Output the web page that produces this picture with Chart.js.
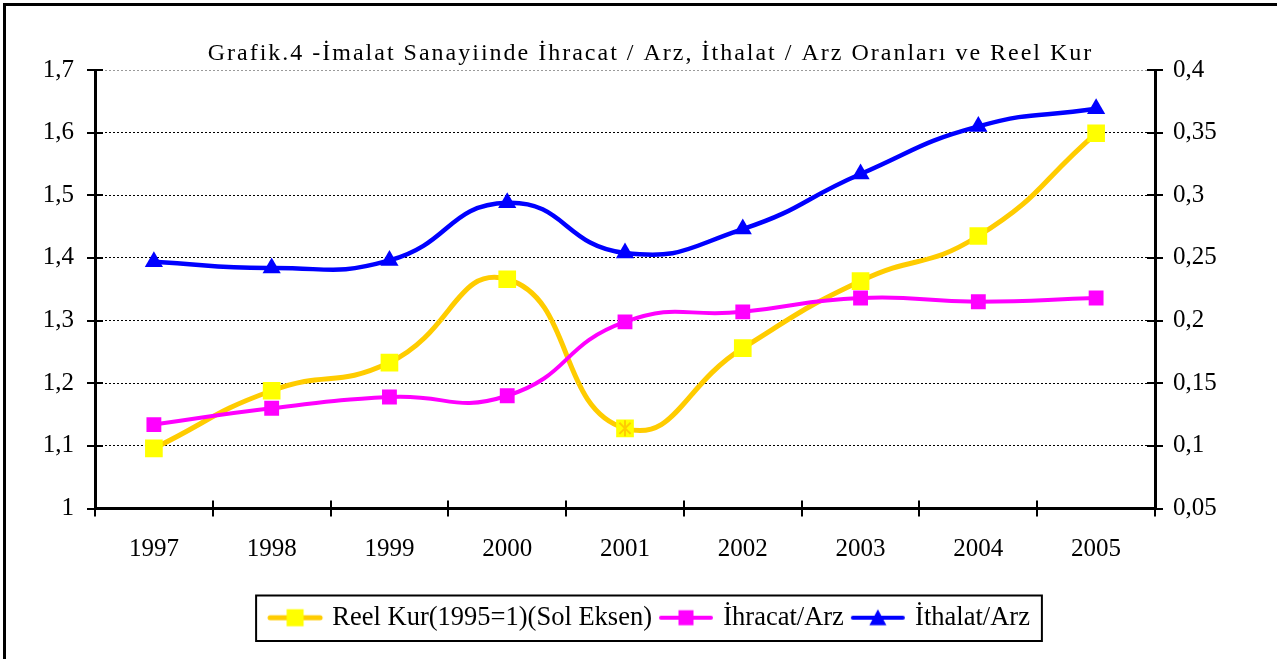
<!DOCTYPE html>
<html>
<head>
<meta charset="utf-8">
<script src="https://cdn.jsdelivr.net/npm/chart.js@4.4.0/dist/chart.umd.min.js"></script>
<style>
  body { margin: 0; background: #fff; }
</style>
</head>
<body>
<canvas id="myChart" width="1277" height="659"></canvas>
<script>
const years = ["1997", "1998", "1999", "2000", "2001", "2002", "2003", "2004", "2005"];
const reelKur = [1.096, 1.188, 1.233, 1.366, 1.128, 1.256, 1.363, 1.435, 1.599];
const ihracatArz = [0.117, 0.130, 0.139, 0.140, 0.199, 0.207, 0.218, 0.215, 0.218];
const ithalatArz = [0.247, 0.242, 0.248, 0.294, 0.254, 0.273, 0.317, 0.355, 0.369];
const leftTicks = [1, 1.1, 1.2, 1.3, 1.4, 1.5, 1.6, 1.7];
const rightTicks = [0.05, 0.1, 0.15, 0.2, 0.25, 0.3, 0.35, 0.4];
const starYears = ["2001"];

const FONT = "'Liberation Serif', 'Times New Roman', serif";

// comma as decimal sign
function fmt(v) {
  return Number(v.toFixed(2)).toString().replace(".", ",");
}

// legend icon: short line with marker in the middle
function legendIcon(lineColor, fillColor, shape, lw, size) {
  const c = document.createElement("canvas");
  c.width = 58;
  c.height = 22;
  const g = c.getContext("2d");
  g.strokeStyle = lineColor;
  g.lineWidth = lw;
  g.lineCap = "round";
  g.beginPath();
  g.moveTo(4, 11);
  g.lineTo(54, 11);
  g.stroke();
  g.fillStyle = fillColor;
  if (shape === "rect") {
    g.fillRect(29 - size / 2, 11 - size / 2, size, size);
  } else {
    g.beginPath();
    g.moveTo(29, 11 - size / 2 - 1);
    g.lineTo(29 + size / 2 + 1, 11 + size / 2);
    g.lineTo(29 - size / 2 - 1, 11 + size / 2);
    g.closePath();
    g.fill();
  }
  return c;
}

const icons = [
  legendIcon("#FFCC00", "#FFFF00", "rect", 5, 17),
  legendIcon("#FF00FF", "#FF00FF", "rect", 4, 15),
  legendIcon("#0000FF", "#0000FF", "triangle", 4, 15),
];

// frame, crossing tick marks, star marker, legend box
const extras = {
  id: "extras",
  afterInit(chart) {
    // wider letter spacing for the title, like the original
    const tb = chart.titleBlock;
    if (tb) {
      const orig = tb.draw.bind(tb);
      tb.draw = function () {
        const c = this.ctx;
        c.save();
        c.letterSpacing = "2px";
        orig();
        c.restore();
      };
    }
  },
  beforeDraw(chart) {
    const ctx = chart.ctx;
    ctx.save();
    ctx.fillStyle = "#fff";
    ctx.fillRect(0, 0, chart.width, chart.height);
    ctx.strokeStyle = "#000";
    ctx.lineWidth = 3;
    ctx.beginPath();
    ctx.moveTo(chart.width, 4.5);
    ctx.lineTo(4.5, 4.5);
    ctx.lineTo(4.5, chart.height);
    ctx.stroke();
    ctx.restore();
  },
  afterDraw(chart) {
    const ctx = chart.ctx;
    const a = chart.chartArea;
    const L = 8;
    ctx.save();
    ctx.strokeStyle = "#000";
    ctx.lineWidth = 2;
    ctx.beginPath();
    const yl = chart.scales.y;
    yl.ticks.forEach((t) => {
      const p = Math.round(yl.getPixelForValue(t.value));
      ctx.moveTo(a.left - L, p);
      ctx.lineTo(a.left + L, p);
    });
    const yr = chart.scales.y1;
    yr.ticks.forEach((t) => {
      const p = Math.round(yr.getPixelForValue(t.value));
      ctx.moveTo(a.right - L, p);
      ctx.lineTo(a.right + L, p);
    });
    const n = years.length;
    for (let i = 0; i <= n; i++) {
      const x = Math.round(a.left + (i * (a.right - a.left)) / n);
      ctx.moveTo(x, a.bottom - L);
      ctx.lineTo(x, a.bottom + L);
    }
    ctx.stroke();

    // legend frame
    const hb = chart.legend.legendHitBoxes;
    if (hb && hb.length) {
      const left = Math.min(...hb.map((h) => h.left)) - 15;
      const right = Math.max(...hb.map((h) => h.left + h.width)) + 12;
      const top = hb[0].top - 9;
      const bottom = hb[0].top + hb[0].height + 10;
      ctx.lineWidth = 2;
      ctx.strokeRect(left, top, right - left, bottom - top);
    }
    ctx.restore();
  },
  afterDatasetsDraw(chart) {
    const ctx = chart.ctx;
    const meta = chart.getDatasetMeta(0);
    ctx.save();
    ctx.strokeStyle = "#FFCC00";
    ctx.lineWidth = 2;
    starYears.forEach((yr) => {
      const pt = meta.data[years.indexOf(yr)];
      if (!pt) return;
      const r = 8;
      ctx.beginPath();
      ctx.moveTo(pt.x, pt.y - r);
      ctx.lineTo(pt.x, pt.y + r);
      ctx.moveTo(pt.x - r * 0.7, pt.y - r * 0.7);
      ctx.lineTo(pt.x + r * 0.7, pt.y + r * 0.7);
      ctx.moveTo(pt.x + r * 0.7, pt.y - r * 0.7);
      ctx.lineTo(pt.x - r * 0.7, pt.y + r * 0.7);
      ctx.stroke();
    });
    ctx.restore();
  },
};

const data = {
  labels: years,
  datasets: [
    {
      label: "Reel Kur(1995=1)(Sol Eksen)",
      data: reelKur,
      yAxisID: "y",
      borderColor: "#FFCC00",
      backgroundColor: "#FFFF00",
      borderWidth: 5,
      pointStyle: "rect",
      pointRadius: 12.5,
      pointBorderWidth: 0,
      tension: 0.5,
      order: 3,
    },
    {
      label: "İhracat/Arz",
      data: ihracatArz,
      yAxisID: "y1",
      borderColor: "#FF00FF",
      backgroundColor: "#FF00FF",
      borderWidth: 4,
      pointStyle: "rect",
      pointRadius: 10.5,
      pointBorderWidth: 0,
      tension: 0.5,
      order: 2,
    },
    {
      label: "İthalat/Arz",
      data: ithalatArz,
      yAxisID: "y1",
      borderColor: "#0000FF",
      backgroundColor: "#0000FF",
      borderWidth: 4.5,
      pointStyle: "triangle",
      pointRadius: 10.5,
      pointBorderWidth: 0,
      tension: 0.5,
      order: 1,
    },
  ],
};

const config = {
  type: "line",
  data: data,
  options: {
    responsive: false,
    animation: false,
    layout: {
      padding: { left: 24, right: 0, top: 0, bottom: 18 },
    },
    plugins: {
      title: {
        display: true,
        text: "Grafik.4 -İmalat Sanayiinde İhracat / Arz, İthalat / Arz Oranları ve Reel Kur",
        color: "#000",
        font: { family: FONT, size: 24, weight: "normal", lineHeight: 1 },
        padding: { top: 42, bottom: 4 },
      },
      legend: {
        position: "bottom",
        labels: {
          color: "#000",
          font: { family: FONT, size: 26.5 },
          usePointStyle: true,
          pointStyleWidth: 48,
          padding: 10,
          sort: (a, b) => a.datasetIndex - b.datasetIndex,
          generateLabels(chart) {
            const items = Chart.defaults.plugins.legend.labels.generateLabels(chart);
            items.forEach((it) => (it.pointStyle = icons[it.datasetIndex]));
            return items;
          },
        },
      },
      tooltip: { enabled: false },
    },
    scales: {
      x: {
        offset: true,
        grid: { display: false, offset: true, drawTicks: false },
        border: { display: true, color: "#000", width: 3 },
        ticks: { color: "#000", font: { family: FONT, size: 25 }, padding: 26, maxRotation: 0 },
        afterFit: (s) => {
          s.height = 86;
        },
      },
      y: {
        position: "left",
        min: leftTicks[0],
        max: leftTicks[leftTicks.length - 1],
        afterBuildTicks: (s) => {
          s.ticks = leftTicks.map((v) => ({ value: v }));
        },
        grid: {
          drawTicks: false,
          color: (c) => (c.tick && c.tick.value === 1.7 ? "#9a9a9a" : "#000"),
          lineWidth: 1,
        },
        border: { display: true, color: "#000", width: 3, dash: [2, 2] },
        ticks: { color: "#000", font: { family: FONT, size: 25 }, padding: 21, callback: (v) => fmt(v) },
        afterFit: (s) => {
          s.width = 71;
        },
      },
      y1: {
        position: "right",
        min: rightTicks[0],
        max: rightTicks[rightTicks.length - 1],
        afterBuildTicks: (s) => {
          s.ticks = rightTicks.map((v) => ({ value: v }));
        },
        grid: { drawOnChartArea: false, drawTicks: false },
        border: { display: true, color: "#000", width: 3 },
        ticks: { color: "#000", font: { family: FONT, size: 25 }, padding: 18, callback: (v) => fmt(v) },
        afterFit: (s) => {
          s.width = 122;
        },
      },
    },
  },
  plugins: [extras],
};

var ctx = document.getElementById("myChart").getContext("2d");
var myChart = new Chart(ctx, config);
</script>
</body>
</html>
